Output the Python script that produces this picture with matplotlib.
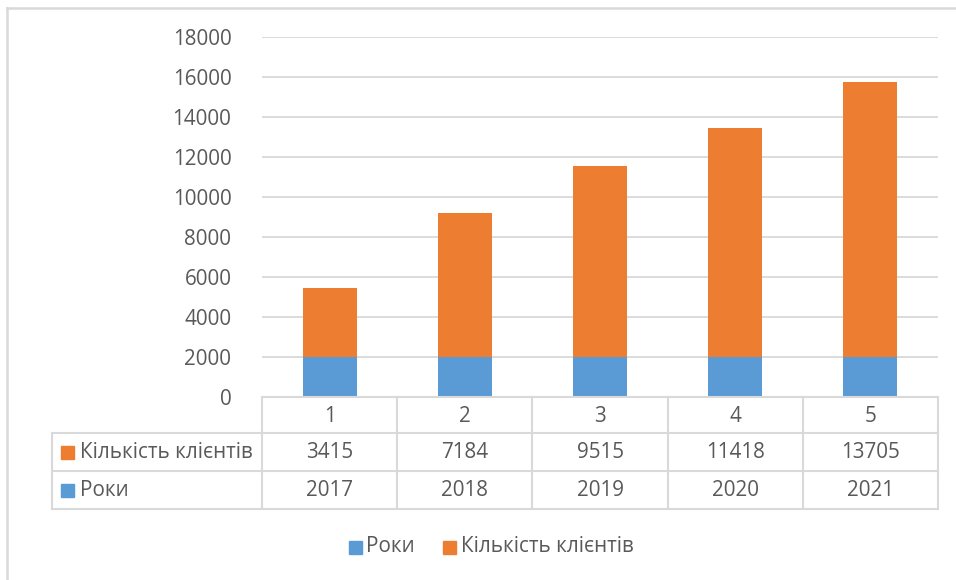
import matplotlib
matplotlib.use("Agg")
import matplotlib.pyplot as plt
from matplotlib.lines import Line2D
from matplotlib.patches import Rectangle
import matplotlib.transforms as mtransforms

categories = ["1", "2", "3", "4", "5"]
years = [2017, 2018, 2019, 2020, 2021]
clients = [3415, 7184, 9515, 11418, 13705]
series_names = ["Роки", "Кількість клієнтів"]
yticks = [0, 2000, 4000, 6000, 8000, 10000, 12000, 14000, 16000, 18000]

BLUE = "#5B9BD5"
ORANGE = "#ED7D31"
TXT = "#595959"
GRID = "#D9D9D9"

plt.rcParams['font.family'] = ['Open Sans', 'DejaVu Sans']
FS = 14.9

W, H = 956, 580
fig = plt.figure(figsize=(W / 100, H / 100), dpi=100)

def fx(px):
    return px / W

def fy(py):
    return 1 - py / H

ax_l, ax_r, ax_t, ax_b = 262, 938, 37, 397
ax = fig.add_axes([fx(ax_l), fy(ax_b), fx(ax_r - ax_l), (ax_b - ax_t) / H])
x = list(range(len(categories)))
ax.bar(x, years, width=0.4, color=BLUE, zorder=3)
ax.bar(x, clients, width=0.4, bottom=years, color=ORANGE, zorder=3)
ax.set_xlim(-0.5, len(categories) - 0.5)
ax.set_ylim(0, 18000)
ax.set_yticks(yticks)
ax.set_yticklabels([str(t) for t in yticks])
ax.tick_params(axis='y', length=0, pad=22, labelsize=FS, labelcolor=TXT)
ax.tick_params(axis='x', length=0, labelbottom=False)
ax.grid(axis='y', color=GRID, linewidth=1.3, zorder=0)
for s in ax.spines.values():
    s.set_visible(False)

# table
trans = mtransforms.blended_transform_factory(ax.transData, fig.transFigure)
tl = dict(color=GRID, linewidth=1.5, transform=fig.transFigure, zorder=5)
rows_y = [397, 433, 471, 509]
xl, xr = 52, ax_r
fig.add_artist(Line2D([fx(ax_l), fx(xr)], [fy(397), fy(397)], **tl))
for yy in rows_y[1:]:
    fig.add_artist(Line2D([fx(xl), fx(xr)], [fy(yy), fy(yy)], **tl))
fig.add_artist(Line2D([fx(xl), fx(xl)], [fy(433), fy(509)], **tl))
for i in range(len(categories) + 1):
    fig.add_artist(Line2D([i - 0.5, i - 0.5], [fy(397), fy(509)], color=GRID,
                          linewidth=1.5, transform=trans, zorder=5))

for i, c in enumerate(categories):
    fig.text(i, fy(416), c, transform=trans, ha='center', va='center',
             fontsize=FS, color=TXT)
    fig.text(i, fy(452), str(clients[i]), transform=trans, ha='center',
             va='center', fontsize=FS, color=TXT)
    fig.text(i, fy(490), str(years[i]), transform=trans, ha='center',
             va='center', fontsize=FS, color=TXT)

def legend_key(px, py, color):
    fig.add_artist(Rectangle((fx(px), fy(py + 7)), 13 / W, 13 / H,
                             transform=fig.transFigure, color=color, zorder=6))

legend_key(61, 452, ORANGE)
fig.text(fx(80), fy(452), series_names[1], ha='left', va='center',
         fontsize=FS, color=TXT)
legend_key(61, 490, BLUE)
fig.text(fx(80), fy(490), series_names[0], ha='left', va='center',
         fontsize=FS, color=TXT)

# bottom legend
legend_key(349, 547, BLUE)
fig.text(fx(366), fy(547), series_names[0], ha='left', va='center',
         fontsize=FS, color=TXT)
legend_key(443, 547, ORANGE)
fig.text(fx(461), fy(547), series_names[1], ha='left', va='center',
         fontsize=FS, color=TXT)

# outer frame
fig.add_artist(Line2D([fx(7), fx(7)], [fy(8), 0], color=GRID, linewidth=1.8,
                      transform=fig.transFigure))
fig.add_artist(Line2D([fx(7), 1], [fy(8), fy(8)], color=GRID, linewidth=1.8,
                      transform=fig.transFigure))

fig.savefig("out.png", dpi=100)
